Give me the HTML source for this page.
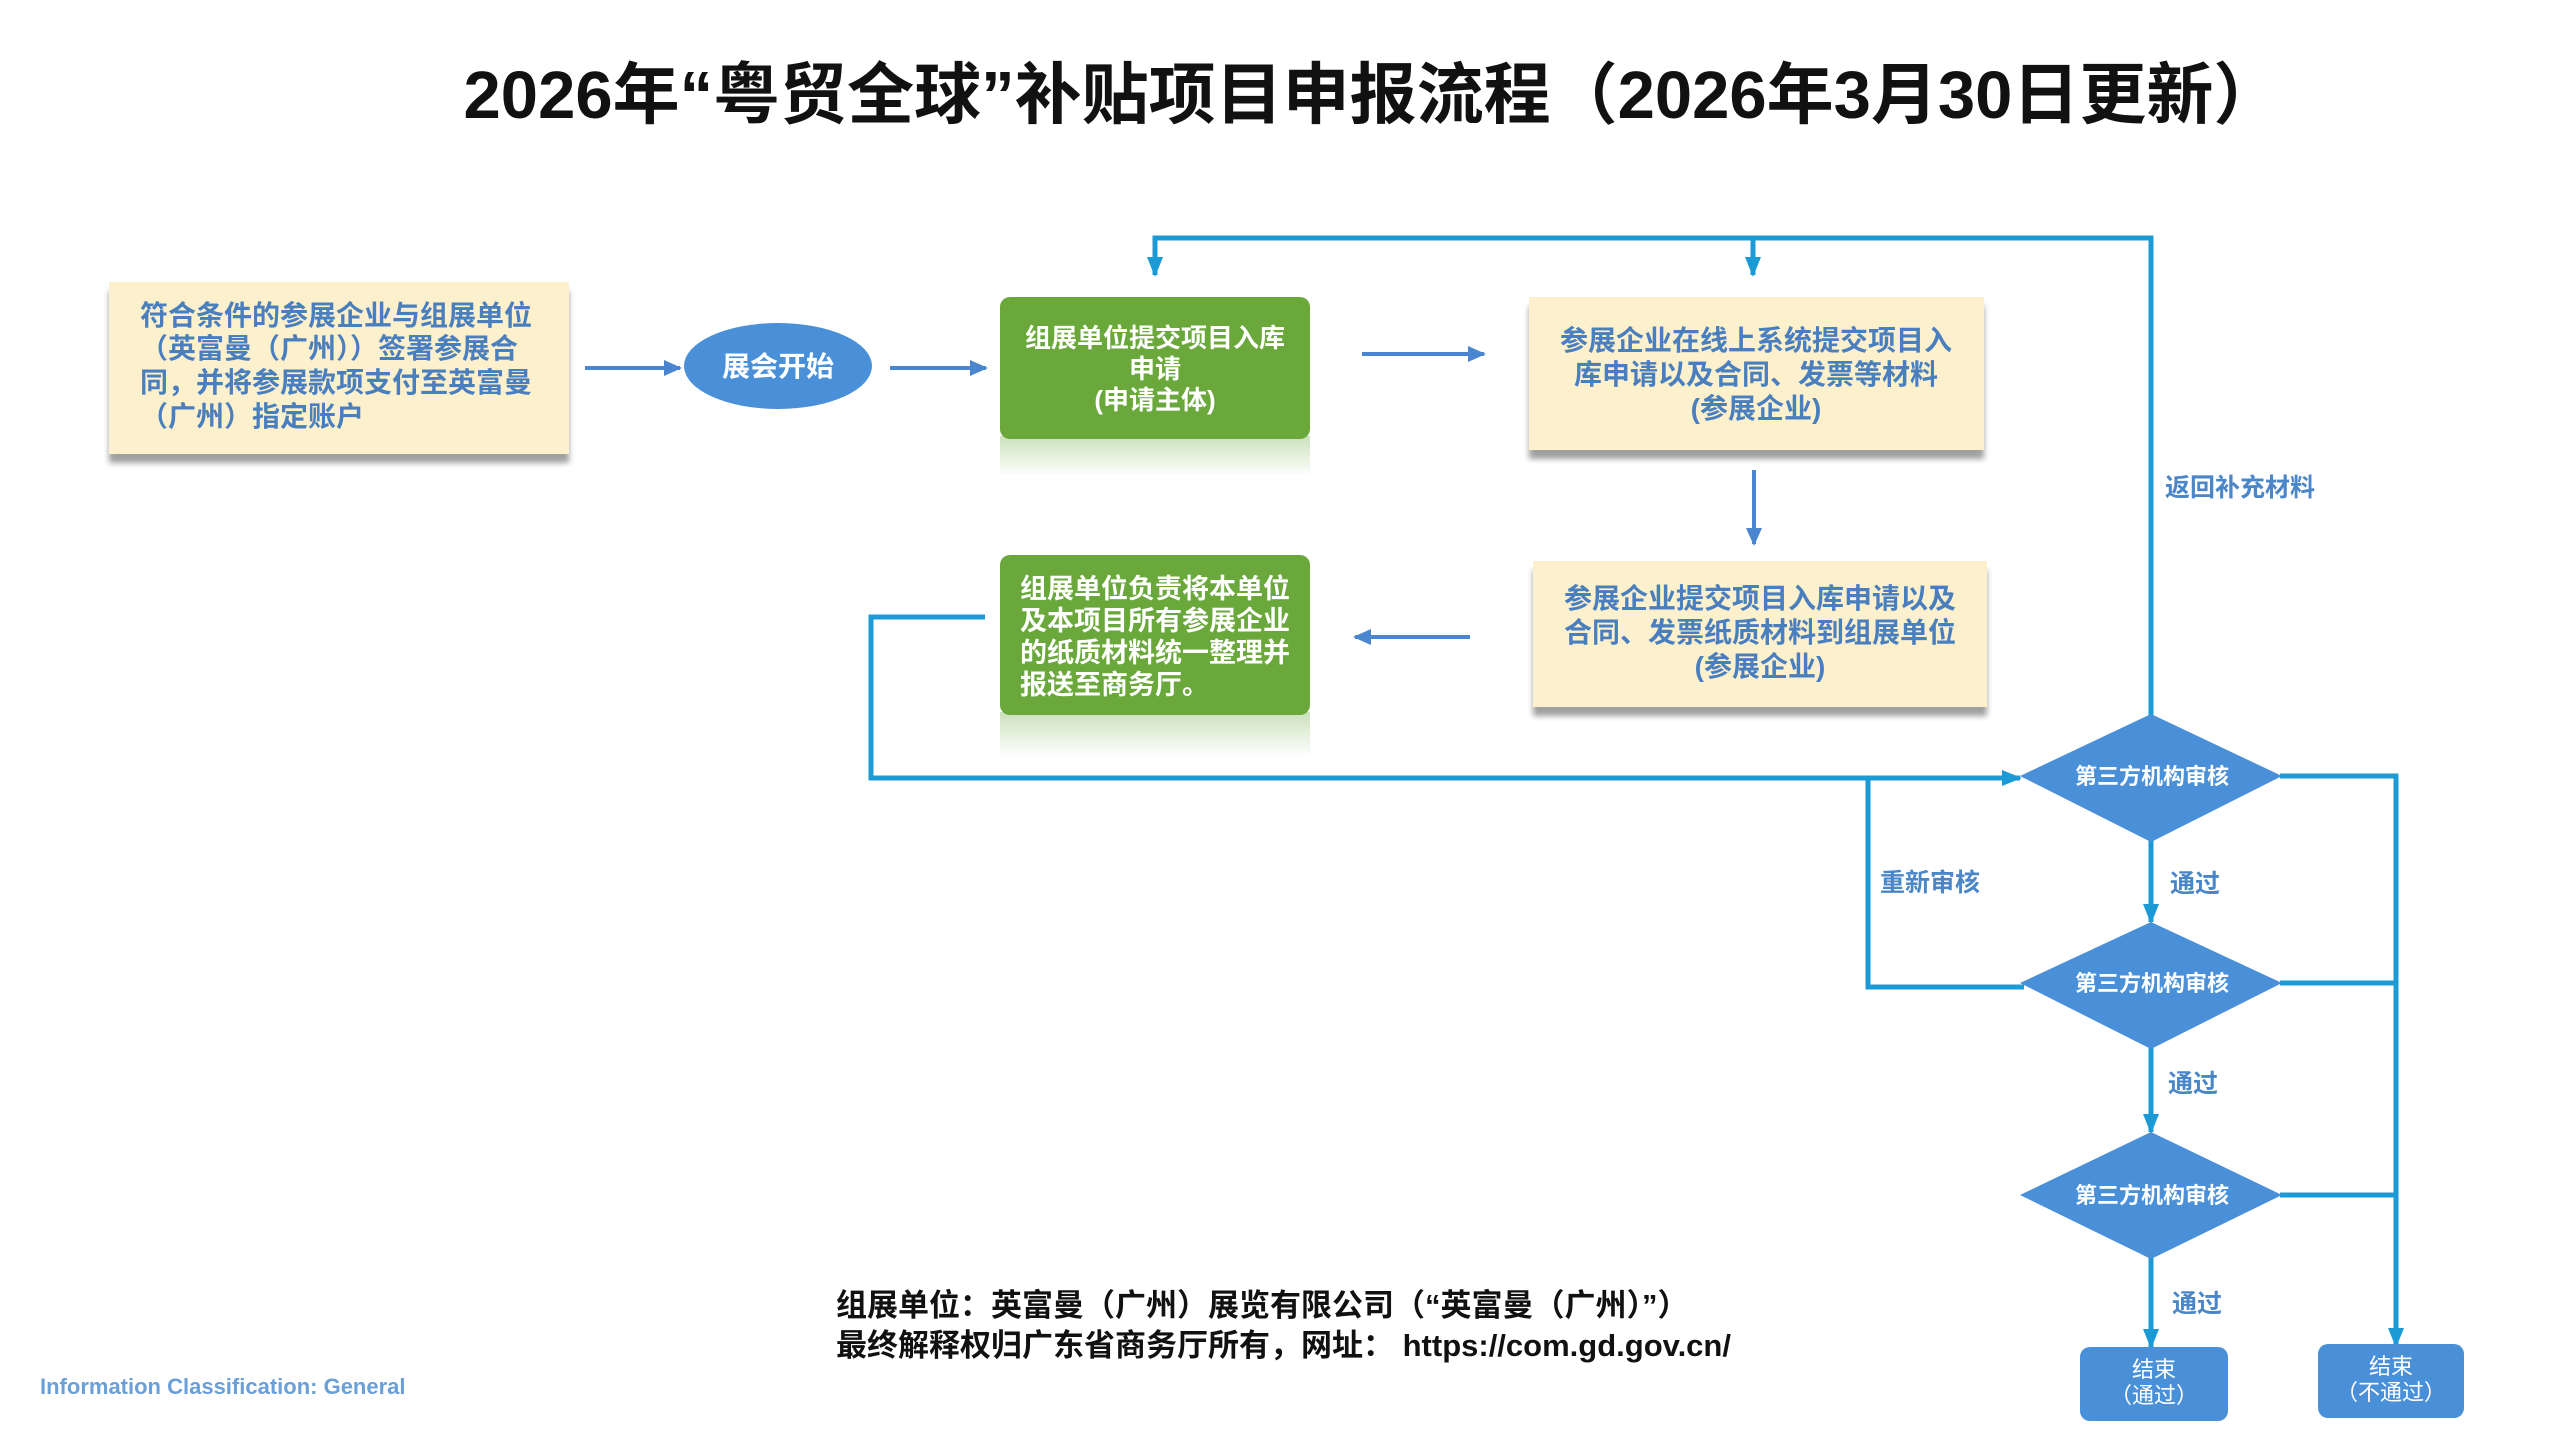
<!DOCTYPE html>
<html><head><meta charset="utf-8"><style>
html,body{margin:0;padding:0;background:#fff;}
svg{display:block;}
text{font-family:"Liberation Sans","Noto Sans CJK SC",sans-serif;}
</style></head><body>
<svg width="2560" height="1440" viewBox="0 0 2560 1440" xmlns="http://www.w3.org/2000/svg">
<defs>
<filter id="sh" x="-5%" y="-5%" width="110%" height="125%"><feDropShadow dx="0" dy="9" stdDeviation="3" flood-color="#777" flood-opacity="0.7"/></filter>
<linearGradient id="refl" x1="0" y1="0" x2="0" y2="1"><stop offset="0" stop-color="#6aa83c" stop-opacity="0.35"/><stop offset="1" stop-color="#6aa83c" stop-opacity="0"/></linearGradient>
<marker id="a2" markerWidth="20" markerHeight="20" refX="18" refY="10" orient="auto" markerUnits="userSpaceOnUse" viewBox="0 0 20 20"><path d="M0,2 L20,10 L0,18 z" fill="#1b9ad6"/></marker>
<marker id="a3" markerWidth="18" markerHeight="18" refX="16" refY="9" orient="auto" markerUnits="userSpaceOnUse" viewBox="0 0 18 18"><path d="M0,1 L18,9 L0,17 z" fill="#4a86d0"/></marker>
</defs>

<text x="1372" y="118" text-anchor="middle" font-size="67" font-weight="bold" fill="#111">2026年“粤贸全球”补贴项目申报流程（2026年3月30日更新）</text>

<!-- box1 -->
<rect x="109" y="282" width="460" height="172" fill="#fdf0cc" filter="url(#sh)"/>
<g font-size="28" font-weight="bold" fill="#4a7fbf">
<text x="140" y="325">符合条件的参展企业与组展单位</text>
<text x="140" y="358">（英富曼（广州））签署参展合</text>
<text x="140" y="392">同，并将参展款项支付至英富曼</text>
<text x="140" y="426">（广州）指定账户</text>
</g>

<!-- ellipse -->
<ellipse cx="778" cy="366" rx="94" ry="43" fill="#4a90d9"/>
<text x="778" y="376" text-anchor="middle" font-size="28" font-weight="bold" fill="#fff">展会开始</text>

<g stroke="#4a86d0" stroke-width="4" fill="none">
<line x1="585" y1="368" x2="680" y2="368" marker-end="url(#a3)"/>
<line x1="890" y1="368" x2="986" y2="368" marker-end="url(#a3)"/>
<line x1="1362" y1="354" x2="1484" y2="354" marker-end="url(#a3)"/>
<line x1="1754" y1="470" x2="1754" y2="544" marker-end="url(#a3)"/>
<line x1="1470" y1="637" x2="1355" y2="637" marker-end="url(#a3)"/>
</g>

<!-- green boxes -->
<rect x="1000" y="436" width="310" height="40" fill="url(#refl)"/>
<rect x="1000" y="297" width="310" height="142" rx="10" fill="#6aa83c"/>
<g font-size="26" font-weight="bold" fill="#fff" text-anchor="middle">
<text x="1155" y="347">组展单位提交项目入库</text>
<text x="1155" y="378">申请</text>
<text x="1155" y="409">(申请主体)</text>
</g>
<rect x="1000" y="712" width="310" height="45" fill="url(#refl)"/>
<rect x="1000" y="555" width="310" height="160" rx="10" fill="#6aa83c"/>
<g font-size="27" font-weight="bold" fill="#fff">
<text x="1020" y="598">组展单位负责将本单位</text>
<text x="1020" y="630">及本项目所有参展企业</text>
<text x="1020" y="662">的纸质材料统一整理并</text>
<text x="1020" y="694">报送至商务厅。</text>
</g>

<!-- yellow boxes right -->
<rect x="1529" y="297" width="455" height="153" fill="#fdf0cc" filter="url(#sh)"/>
<g font-size="28" font-weight="bold" fill="#4a7fbf" text-anchor="middle">
<text x="1756" y="350">参展企业在线上系统提交项目入</text>
<text x="1756" y="384">库申请以及合同、发票等材料</text>
<text x="1756" y="418">(参展企业)</text>
</g>
<rect x="1533" y="561" width="454" height="146" fill="#fdf0cc" filter="url(#sh)"/>
<g font-size="28" font-weight="bold" fill="#4a7fbf" text-anchor="middle">
<text x="1760" y="608">参展企业提交项目入库申请以及</text>
<text x="1760" y="642">合同、发票纸质材料到组展单位</text>
<text x="1760" y="676">(参展企业)</text>
</g>

<!-- cyan loops -->
<g stroke="#1b9ad6" stroke-width="5" fill="none">
<polyline points="2151,760 2151,238 1155,238 1155,275" marker-end="url(#a2)"/>
<line x1="1753" y1="238" x2="1753" y2="275" marker-end="url(#a2)"/>
<polyline points="985,617 871,617 871,778 2020,778" marker-end="url(#a2)"/>
<polyline points="2024,987 1868,987 1868,780"/>
<polyline points="2280,776 2396,776 2396,1346" marker-end="url(#a2)"/>
<line x1="2280" y1="983" x2="2396" y2="983"/>
<line x1="2280" y1="1195" x2="2396" y2="1195"/>
<line x1="2151" y1="840" x2="2151" y2="922" marker-end="url(#a2)"/>
<line x1="2151" y1="1048" x2="2151" y2="1132" marker-end="url(#a2)"/>
<line x1="2151" y1="1258" x2="2151" y2="1347" marker-end="url(#a2)"/>
</g>

<!-- diamonds -->
<g fill="#4a90d9">
<polygon points="2151,714 2282,776 2151,842 2020,776"/>
<polygon points="2151,922 2282,983 2151,1049 2020,983"/>
<polygon points="2151,1132 2282,1195 2151,1259 2020,1195"/>
</g>
<g font-size="22" font-weight="bold" fill="#fff" text-anchor="middle">
<text x="2152" y="784">第三方机构审核</text>
<text x="2152" y="991">第三方机构审核</text>
<text x="2152" y="1203">第三方机构审核</text>
</g>

<!-- labels -->
<g font-size="25" font-weight="bold" fill="#4a86c8">
<text x="2165" y="496">返回补充材料</text>
<text x="1880" y="891">重新审核</text>
<text x="2170" y="892">通过</text>
<text x="2168" y="1092">通过</text>
<text x="2172" y="1312">通过</text>
</g>

<!-- end boxes -->
<rect x="2080" y="1347" width="148" height="74" rx="10" fill="#4a90d9"/>
<rect x="2318" y="1344" width="146" height="74" rx="10" fill="#4a90d9"/>
<g font-size="22" fill="#fff" text-anchor="middle">
<text x="2154" y="1377">结束</text>
<text x="2154" y="1403">（通过）</text>
<text x="2391" y="1374">结束</text>
<text x="2391" y="1400">（不通过）</text>
</g>

<!-- footer -->
<g font-size="31" font-weight="bold" fill="#111">
<text x="836" y="1316">组展单位：英富曼（广州）展览有限公司（“英富曼（广州）”）</text>
<text x="836" y="1356">最终解释权归广东省商务厅所有，网址： https://com.gd.gov.cn/</text>
</g>
<text x="40" y="1394" font-family="Liberation Serif,serif" font-size="22" font-weight="bold" fill="#6a9fd8">Information Classification: General</text>
</svg>
</body></html>
